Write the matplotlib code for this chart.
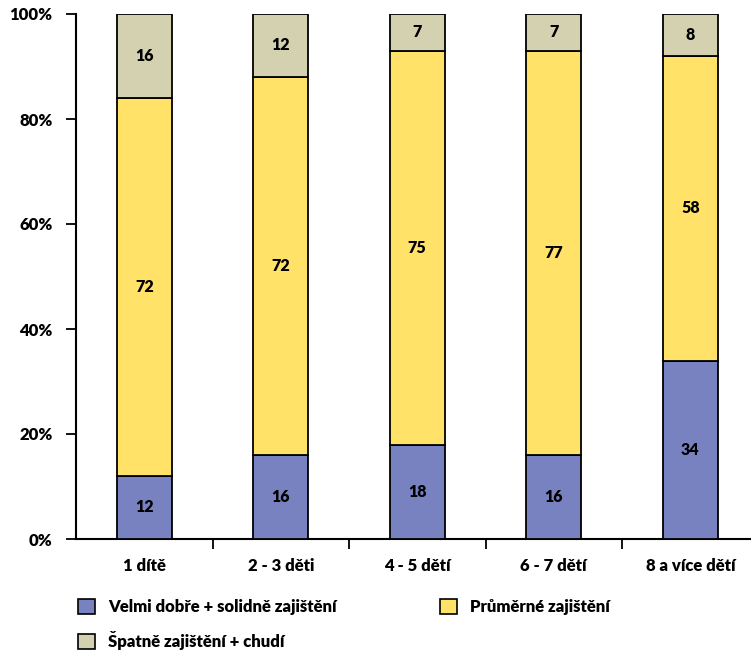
import numpy as np
import matplotlib
matplotlib.use("Agg")
import matplotlib.pyplot as plt
from matplotlib.patches import Patch

plt.rcParams['font.family'] = ['Lato', 'DejaVu Sans']
plt.rcParams['font.weight'] = 'heavy'

categories = ['1 dítě', '2 - 3 děti', '4 - 5 dětí', '6 - 7 dětí', '8 a více dětí']
good = [12, 16, 18, 16, 34]
average = [72, 72, 75, 77, 58]
poor = [16, 12, 7, 7, 8]
series_names = ['Velmi dobře + solidně zajištění', 'Průměrné zajištění', 'Špatně zajištění + chudí']
colors = ['#7882C0', '#FFE267', '#D4D1B1']

fig = plt.figure(figsize=(7.51, 6.52), dpi=100)
ax = fig.add_axes([76 / 751, 1 - 539 / 652, 675 / 751, 525 / 652])

x = np.arange(len(categories))
w = 0.40
bottom = np.zeros(len(categories))
for vals, col in zip([good, average, poor], colors):
    vals = np.array(vals)
    ax.bar(x, vals, w, bottom=bottom, color=col, edgecolor='black', linewidth=1.3, zorder=3)
    for xi, b, v in zip(x, bottom, vals):
        ax.text(xi, b + v / 2, str(v), ha='center', va='center', fontsize=11.5, fontweight='heavy', zorder=4)
    bottom += vals

ax.set_ylim(0, 100)
ax.set_xlim(-0.5, -0.5 + 675 / 136.5)
ax.set_yticks([0, 20, 40, 60, 80, 100])
ax.set_yticklabels(['0%', '20%', '40%', '60%', '80%', '100%'], fontsize=12, fontweight='heavy')
ax.set_xticks(x)
ax.set_xticklabels(categories, fontsize=12, fontweight='heavy')
ax.set_xticks(np.arange(0.5, 4.5, 1), minor=True)
ax.tick_params(axis='x', which='major', length=0, pad=14)
ax.tick_params(axis='x', which='minor', length=7, width=1.3, direction='out')
ax.tick_params(axis='y', length=7, width=1.3, direction='out', pad=10)
for s in ['top', 'right']:
    ax.spines[s].set_visible(False)
for s in ['left', 'bottom']:
    ax.spines[s].set_linewidth(1.5)

handles = [Patch(facecolor=c, edgecolor='black', linewidth=1.2) for c in colors]
# ncol=2 fills column-wise, so reorder to get Velmi / Průměrné on row 1
order = [0, 2, 1]
fig.legend([handles[i] for i in order], [series_names[i] for i in order],
           loc='upper left', bbox_to_anchor=(68 / 751, 1 - 589 / 652), ncol=2,
           frameon=False, handlelength=1.0, handleheight=1.0, borderaxespad=0.2,
           columnspacing=6.2, labelspacing=0.95, handletextpad=0.8,
           prop={'weight': 'heavy', 'size': 12})

fig.savefig('out.png', dpi=100)
